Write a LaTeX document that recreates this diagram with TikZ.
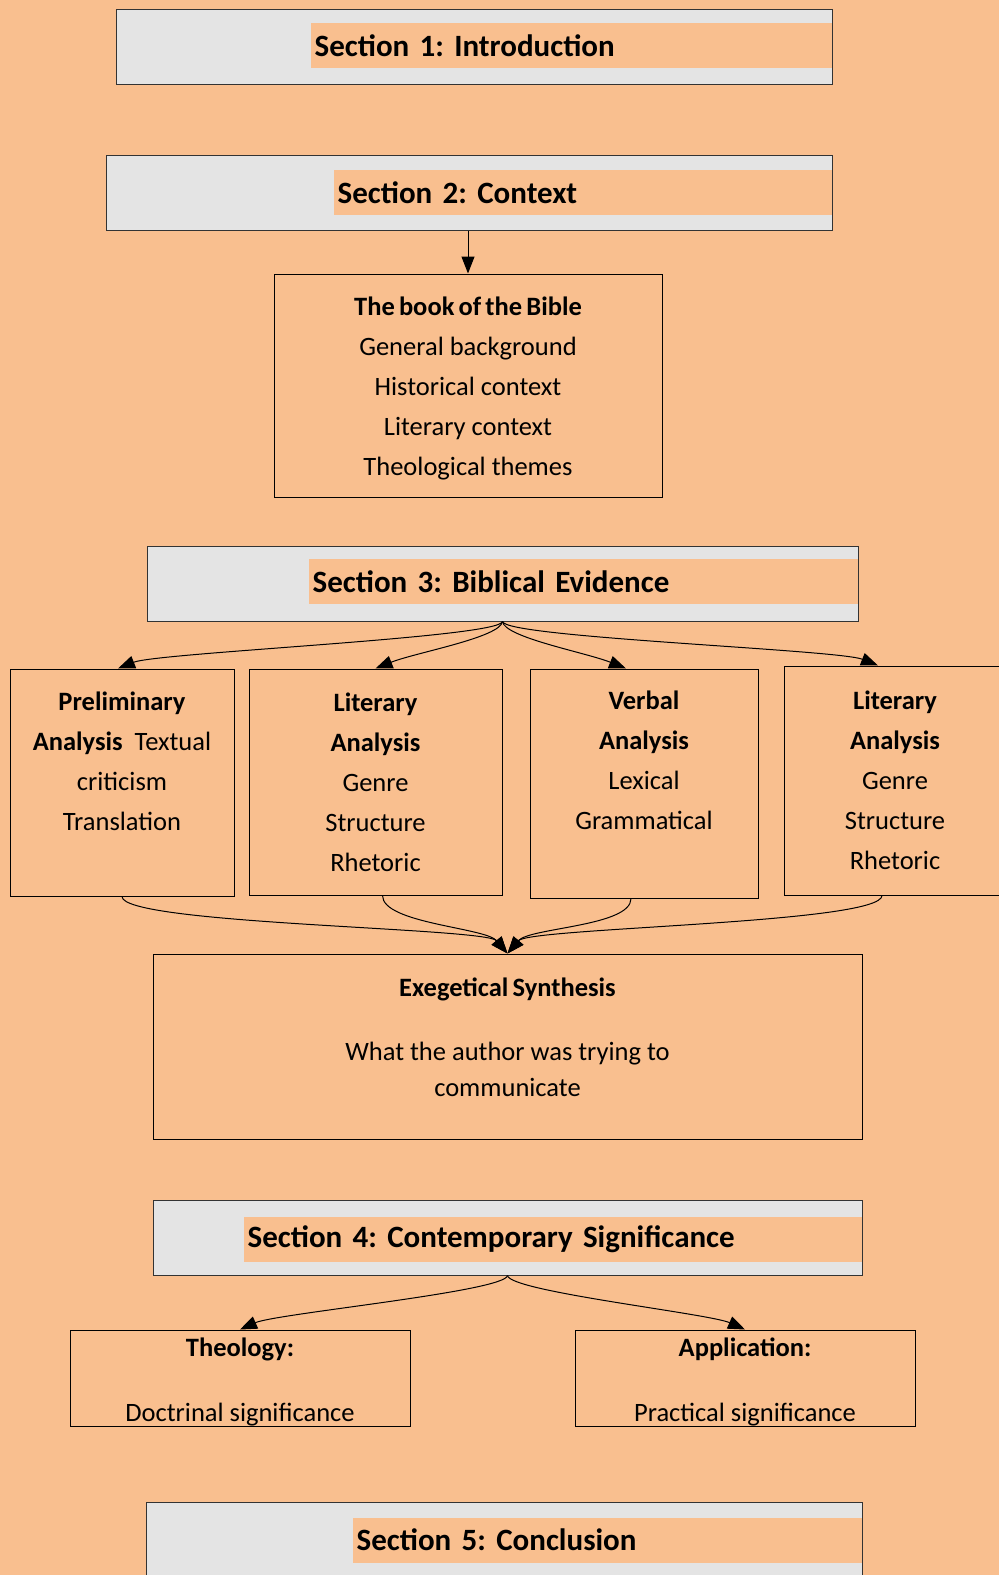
\documentclass[tikz,border=0pt]{standalone}
\usepackage{fontspec}
\setmainfont{Carlito}[BoldFeatures={WordSpace=0.7}]
\usetikzlibrary{arrows.meta,calc}
\definecolor{exgPeach}{HTML}{F9BF8F}
\definecolor{exgGray}{HTML}{E4E4E4}
\definecolor{exgLine}{HTML}{333333}
\tikzset{
  secBox/.style={rectangle, draw=exgLine, line width=1pt, fill=exgGray,
    minimum height=75pt, inner sep=0pt},
  highlight/.style={rectangle, fill=exgPeach, minimum height=45pt, inner xsep=4pt,
    inner ysep=0pt, anchor=east, align=left, font=\fontsize{31}{37}\selectfont\bfseries},
  panel/.style={rectangle, draw=black, line width=1pt, align=center,
    inner sep=0pt, font=\fontsize{26.5}{40}\selectfont},
  panelTxt/.style={align=center, inner sep=0pt, font=\fontsize{26.5}{36}\selectfont},
  connArrow/.style={-{Triangle[length=17pt,width=13pt]}, line width=1pt, black},
}
\frenchspacing

\begin{document}
\begin{tikzpicture}[x=1pt, y=-1pt]
  \path[use as bounding box, fill=exgPeach] (0,0) rectangle (999,1575);
  % section 1 and 2
  \node[secBox, minimum width=716pt] (sec1) at (474,46.5) {};
  \node[highlight, text width=513pt] (sec1t) at ([xshift=-0.6pt,yshift=1pt]sec1.east) {Section 1: Introduction};
  \node[secBox, minimum width=726pt] (sec2) at (469,192.5) {};
  \node[highlight, text width=490pt] (sec2t) at ([xshift=-0.6pt]sec2.east) {Section 2: Context};
  \node[panel, minimum width=388pt, minimum height=223pt] (book) at (468,385.5) {};
  \node[panelTxt, font=\fontsize{26.5}{40}\selectfont] (bookT) at ([yshift=-3pt]book.center)
    {\textbf{The book of the Bible}\\General background\\Historical context\\Literary context\\Theological themes};
  \draw[connArrow] (sec2.south -| book.north) -- (book.north);

  % section 3
  \node[secBox, minimum width=711pt] (sec3) at (502.5,583.5) {};
  \node[highlight, text width=541pt] (sec3t) at ([xshift=-0.6pt,yshift=2pt]sec3.east) {Section 3: Biblical Evidence};
  \node[panel, minimum width=224pt, minimum height=227pt] (prelim) at (122,782.5)
    {\textbf{Preliminary}\\\textbf{Analysis}~ Textual\\criticism\\Translation\\[-10pt]\strut};
  \node[panel, minimum width=253pt, minimum height=226pt] (litA) at (375.5,782)
    {\textbf{Literary}\\\textbf{Analysis}\\Genre\\Structure\\Rhetoric};
  \node[panel, minimum width=228pt, minimum height=229pt] (verbal) at (644,783.5)
    {\textbf{Verbal}\\\textbf{Analysis}\\Lexical\\Grammatical\\[-6pt]\strut};
  \node[panel, minimum width=222pt, minimum height=229pt] (litB) at (895,780.5)
    {\textbf{Literary}\\\textbf{Analysis}\\Genre\\Structure\\Rhetoric};
  \foreach \n/\dx/\s in {prelim/-4pt/1, litA/0pt/1, verbal/-18pt/-1, litB/-17pt/-1}
    {\draw[connArrow] (sec3.south) .. controls +(-2*\s,16) and +(40*\s,-16) .. ([xshift=\dx]\n.north);}

  \node[panel, minimum width=709pt, minimum height=185pt] (synth) at (507.5,1046.5) {};
  \node[panelTxt, anchor=north] (synthT) at ([yshift=-24pt]synth.north)
    {\textbf{Exegetical Synthesis}\\[28pt]What the author was trying to\\communicate};
  \foreach \n/\dx/\s in {prelim/0pt/1, litA/7pt/1, verbal/-13pt/-1, litB/-13pt/-1}
    {\draw[connArrow] ([xshift=\dx]\n.south) .. controls +(0,28) and +(-22*\s,-26) .. (synth.north);}

  % section 4
  \node[secBox, minimum width=709pt] (sec4) at (507.5,1237.5) {};
  \node[highlight, text width=610pt] (sec4t) at ([xshift=-0.6pt,yshift=-2pt]sec4.east) {Section 4: Contemporary Significance};
  \node[panel, minimum width=340pt, minimum height=96pt] (theo) at (240,1378) {};
  \node[panelTxt, font=\fontsize{26.5}{40}\selectfont] (theoT) at ([yshift=-4pt]theo.center)
    {\textbf{Theology:}\\[25pt]Doctrinal significance};
  \node[panel, minimum width=340pt, minimum height=96pt] (appl) at (745,1378) {};
  \node[panelTxt, font=\fontsize{26.5}{40}\selectfont] (applT) at ([yshift=-4pt]appl.center)
    {\textbf{Application:}\\[25pt]Practical significance};
  \foreach \n/\s in {theo/1,appl/-1}
    {\draw[connArrow] (sec4.south) .. controls +(-2*\s,16) and +(36*\s,-16) .. (\n.north);}

  % section 5
  \node[secBox, minimum width=716pt] (sec5) at (504,1540) {};
  \node[highlight, text width=501pt] (sec5t) at ([xshift=-0.6pt]sec5.east) {Section 5: Conclusion};
\end{tikzpicture}
\end{document}
